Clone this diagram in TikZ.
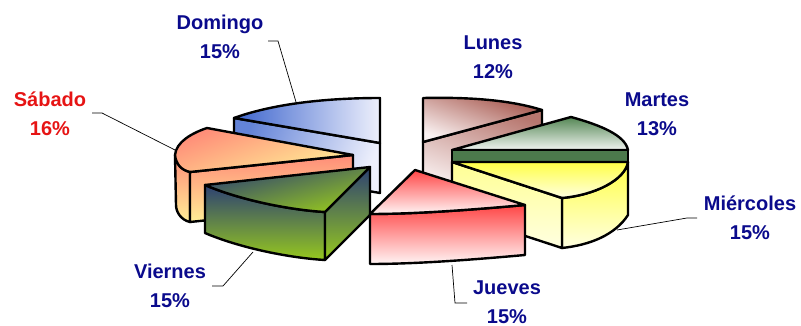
\documentclass[tikz,border=0pt]{standalone}
\usepackage{fontspec}
\setmainfont{Liberation Sans}
\definecolor{navy}{RGB}{10,10,140}
\definecolor{lblred}{RGB}{230,20,20}
\definecolor{bblue}{RGB}{60,100,205}
\definecolor{bpale}{RGB}{238,240,252}
\definecolor{brown}{RGB}{165,85,75}
\definecolor{bwhite}{RGB}{250,242,242}
\definecolor{mgreen}{RGB}{85,135,85}
\definecolor{mpale}{RGB}{240,244,240}
\definecolor{ylw}{RGB}{255,255,70}
\definecolor{ypale}{RGB}{255,255,225}
\definecolor{vnavy}{RGB}{45,65,115}
\definecolor{vgreen}{RGB}{150,200,30}
\definecolor{jred}{RGB}{255,70,70}
\definecolor{jwhite}{RGB}{255,245,245}
\definecolor{salmon}{RGB}{255,140,120}
\definecolor{syel}{RGB}{255,238,150}
\tikzset{
  face/.style={draw=black, line width=2.4pt, line join=round},
  lbl/.style={font=\bfseries\fontsize{20}{28.5}\selectfont, align=center, text=navy, inner sep=0pt},
  leader/.style={draw=black, line width=0.7pt}
}
\begin{document}
\begin{tikzpicture}[x=1pt,y=-1pt]
\useasboundingbox (0,0) rectangle (801,326);
% Domingo
\path[face, top color=bblue!80, bottom color=bpale, shading angle=70]
  (234,168) -- (234,118) -- (380,143) -- (380,193) -- cycle;
\path[face, left color=bblue, right color=bpale]
  (234,118) .. controls (270,105) and (320,98) .. (380,98) -- (380,143) -- cycle;
% Lunes
\path[face, top color=brown!80, bottom color=bwhite, shading angle=-20]
  (423,142) -- (542,110) -- (542,160) -- (423,192) -- cycle;
\path[face, top color=brown, bottom color=bwhite, shading angle=-20]
  (423,98) .. controls (470,97) and (510,100) .. (542,110) -- (423,142) -- cycle;
% Sabado
\path[face, top color=salmon, bottom color=syel]
  (175,155) .. controls (176,164) and (182,170) .. (190,172) -- (190,222)
  .. controls (181,220) and (176,212) .. (176,205) -- cycle;
\path[face, top color=salmon, bottom color=syel]
  (190,172) -- (353,155) -- (353,205) -- (190,222) -- cycle;
\path[face, top color=salmon, bottom color=syel, shading angle=20]
  (207,128) -- (353,155) -- (190,172) .. controls (181,170) and (176,164) .. (175,155)
  .. controls (176,142) and (192,133) .. (207,128) -- cycle;
% Martes
\path[face, top color=mgreen, bottom color=mpale]
  (452,150) -- (571,117) .. controls (600,125) and (625,135) .. (628,150) -- cycle;
\path[face, fill=mgreen!90!black] (452,150) rectangle (628,162);
% Miercoles
\path[face, top color=ylw, bottom color=ypale]
  (628,162) -- (628,215) .. controls (615,235) and (590,245) .. (562,248)
  -- (562,198) .. controls (595,195) and (625,180) .. (628,162) -- cycle;
\path[face, top color=ylw!50!ypale, bottom color=ypale]
  (452,162) -- (562,198) -- (562,248) -- (452,212) -- cycle;
\path[face, top color=ylw, bottom color=ypale]
  (452,162) -- (628,162) .. controls (625,180) and (595,195) .. (562,198) -- cycle;
% Viernes
\path[face, top color=vnavy, bottom color=vgreen]
  (205,185) .. controls (240,200) and (290,210) .. (325,212) -- (325,260)
  .. controls (290,258) and (240,248) .. (205,233) -- cycle;
\path[face, top color=vnavy, bottom color=vgreen]
  (325,212) -- (370,167) -- (370,215) -- (325,260) -- cycle;
\path[face, top color=vnavy, bottom color=vgreen, shading angle=15]
  (205,185) -- (370,167) -- (325,212) .. controls (290,210) and (240,200) .. (205,185) -- cycle;
% Jueves
\path[face, top color=jred, bottom color=jwhite]
  (370,214) .. controls (420,214) and (480,209) .. (525,205) -- (525,255)
  .. controls (480,259) and (420,264) .. (370,264) -- cycle;
\path[face, top color=jred, bottom color=jwhite]
  (415,170) -- (525,205) .. controls (480,209) and (420,214) .. (370,214) -- cycle;
% Labels
\node[lbl] (dom) at (220,37) {Domingo\\15\%};
\node[lbl] (lun) at (493,57) {Lunes\\12\%};
\node[lbl] (mar) at (657,114) {Martes\\13\%};
\node[lbl] (mie) at (750,218) {Miércoles\\15\%};
\node[lbl] (jue) at (507,302) {Jueves\\15\%};
\node[lbl] (vie) at (170,286) {Viernes\\15\%};
\node[lbl, text=lblred] (sab) at (50,114) {Sábado\\16\%};
% Leaders
\coordinate (d1) at (268,41); \coordinate (d2) at (278,41); \coordinate (d3) at (296,102);
\draw[leader] (d1) -- (d2) -- (d3);
\coordinate (s1) at (92,113); \coordinate (s2) at (102,113); \coordinate (s3) at (175,150);
\draw[leader] (s1) -- (s2) -- (s3);
\coordinate (v1) at (212,286); \coordinate (v2) at (223,286); \coordinate (v3) at (253,252);
\draw[leader] (v1) -- (v2) -- (v3);
\coordinate (j1) at (467,303); \coordinate (j2) at (455,303); \coordinate (j3) at (452,265);
\draw[leader] (j1) -- (j2) -- (j3);
\coordinate (m1) at (697,218); \coordinate (m2) at (687,218); \coordinate (m3) at (617,230);
\draw[leader] (m1) -- (m2) -- (m3);
\end{tikzpicture}
\end{document}
